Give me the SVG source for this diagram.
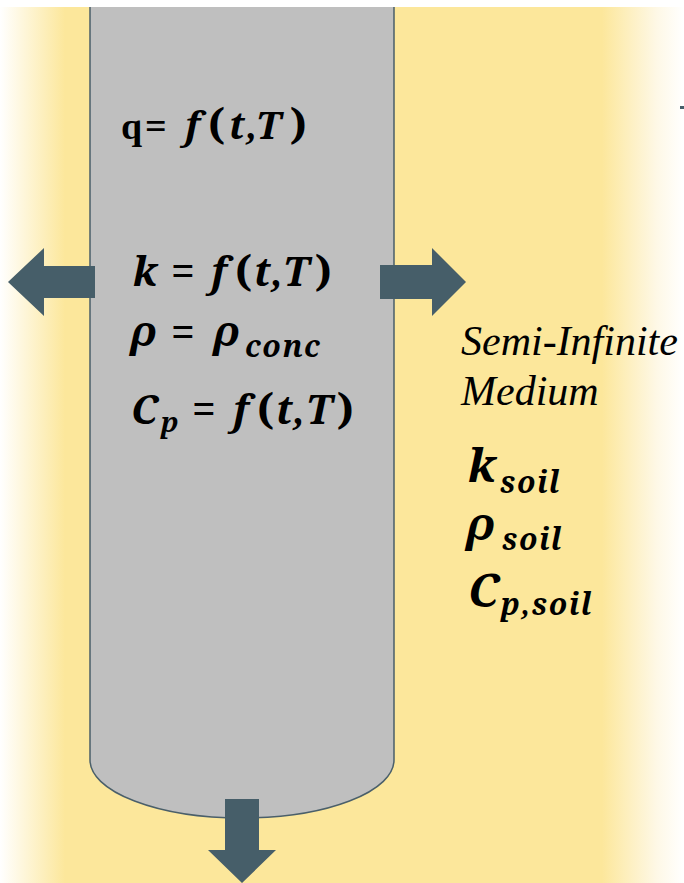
<svg xmlns="http://www.w3.org/2000/svg" width="684" height="883" viewBox="0 0 684 883">
<defs>
<linearGradient id="bg" x1="0" y1="0" x2="684" y2="0" gradientUnits="userSpaceOnUse">
<stop offset="0" stop-color="#FFFFFF"/>
<stop offset="0.095" stop-color="#FCE79B"/>
<stop offset="0.88" stop-color="#FCE79B"/>
<stop offset="0.96" stop-color="#FEF8E6"/>
<stop offset="1" stop-color="#FFFFFF"/>
</linearGradient>
<style>
.m{font-family:"Noto Serif","Liberation Serif","DejaVu Serif",serif;font-weight:bold;font-style:italic;fill:#000}
.u{font-style:normal;font-size:42px}
.t{font-family:"Liberation Serif","DejaVu Serif",serif;font-style:normal;font-size:38px}
.s{font-family:"Liberation Serif","DejaVu Serif",serif;font-style:italic;fill:#000}
.sub{font-size:30px;letter-spacing:1.5px}
.arr{fill:#465E69}
</style>
</defs>
<rect x="0" y="0" width="684" height="883" fill="#FFFFFF"/>
<rect x="0" y="7" width="684" height="876" fill="url(#bg)"/>
<rect x="680" y="106" width="4" height="3" fill="#465E69"/>
<g id="pile">
<path d="M90,7 L90,760 A152,58 0 0 0 394,760 L394,7" fill="#BFBFBF" stroke="#4A5F6A" stroke-width="1.5"/>
</g>
<g id="connectors">
<polygon class="arr" points="95,266 44,266 44,248 8,282 44,316 44,298 95,298"/>
<polygon class="arr" points="380,265 432,265 432,248 466,282 432,316 432,299 380,299"/>
<polygon class="arr" points="225,799 259,799 259,850 276,850 242,883 208,850 225,850"/>
</g>
<g id="pile-labels">
<text class="m" y="139" font-size="38"><tspan class="t" x="121">q</tspan><tspan class="t" x="145">=</tspan><tspan x="185">f</tspan><tspan class="u" x="208">(</tspan><tspan x="229">t</tspan><tspan x="246">,</tspan><tspan x="256">T</tspan><tspan class="u" x="290">)</tspan></text>
<text class="m" y="286" font-size="40"><tspan x="133">k</tspan><tspan class="u" x="171">=</tspan><tspan x="211">f</tspan><tspan class="u" x="235">(</tspan><tspan x="254">t</tspan><tspan x="271">,</tspan><tspan x="283">T</tspan><tspan class="u" x="315">)</tspan></text>
<text class="m" font-size="42"><tspan x="132" y="346">ρ</tspan><tspan class="u" x="171" y="347">=</tspan><tspan x="215" y="346">ρ</tspan><tspan class="sub" x="245" y="357" font-size="28">conc</tspan></text>
<text class="m" font-size="40"><tspan x="131" y="424">C</tspan><tspan x="161" y="432" font-size="28">p</tspan><tspan class="u" x="192" y="424">=</tspan><tspan x="233" y="424">f</tspan><tspan class="u" x="257" y="424">(</tspan><tspan x="276" y="424">t</tspan><tspan x="293" y="424">,</tspan><tspan x="306" y="424">T</tspan><tspan class="u" x="337" y="424">)</tspan></text>
</g>
<g id="medium-labels">
<text class="s" x="461" y="355" font-size="42">Semi-Infinite</text>
<text class="s" x="461" y="405" font-size="42">Medium</text>
<text class="m" font-size="46"><tspan x="468" y="482">k</tspan><tspan class="sub" x="500" y="493">soil</tspan></text>
<text class="m" font-size="46"><tspan x="468" y="540">ρ</tspan><tspan class="sub" x="502" y="550">soil</tspan></text>
<text class="m" font-size="46"><tspan x="468" y="607">C</tspan><tspan class="sub" x="501" y="615">p,soil</tspan></text>
</g>
</svg>
